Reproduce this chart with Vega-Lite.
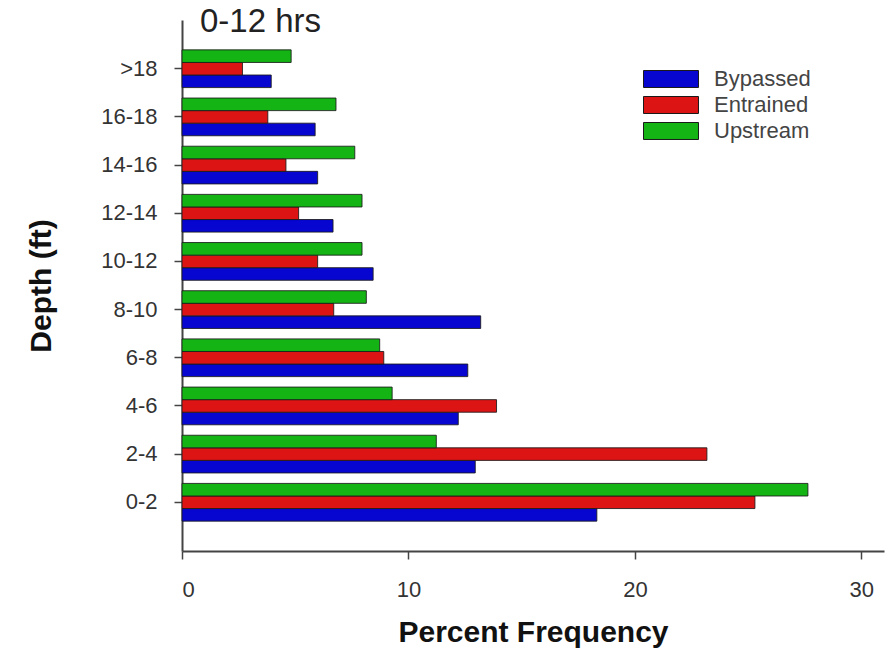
{
  "$schema": "https://vega.github.io/schema/vega-lite/v6.json",
  "autosize": "none",
  "padding": {"left": 182, "top": 20, "right": 8, "bottom": 103},
  "width": 702,
  "height": 531,
  "background": "white",
  "title": {"text": "0-12 hrs", "anchor": "start", "frame": "group", "fontSize": 33, "fontWeight": "normal", "font": "Liberation Sans", "color": "#222", "dx": 18, "offset": -52, "baseline": "bottom"},
  "data": {"values": [
    {"depth": "0-2", "series": "Bypassed", "pct": 18.32},
    {"depth": "0-2", "series": "Entrained", "pct": 25.30},
    {"depth": "0-2", "series": "Upstream", "pct": 27.64},
    {"depth": "2-4", "series": "Bypassed", "pct": 12.95},
    {"depth": "2-4", "series": "Entrained", "pct": 23.18},
    {"depth": "2-4", "series": "Upstream", "pct": 11.23},
    {"depth": "4-6", "series": "Bypassed", "pct": 12.20},
    {"depth": "4-6", "series": "Entrained", "pct": 13.89},
    {"depth": "4-6", "series": "Upstream", "pct": 9.28},
    {"depth": "6-8", "series": "Bypassed", "pct": 12.62},
    {"depth": "6-8", "series": "Entrained", "pct": 8.91},
    {"depth": "6-8", "series": "Upstream", "pct": 8.73},
    {"depth": "8-10", "series": "Bypassed", "pct": 13.19},
    {"depth": "8-10", "series": "Entrained", "pct": 6.70},
    {"depth": "8-10", "series": "Upstream", "pct": 8.14},
    {"depth": "10-12", "series": "Bypassed", "pct": 8.44},
    {"depth": "10-12", "series": "Entrained", "pct": 5.99},
    {"depth": "10-12", "series": "Upstream", "pct": 7.95},
    {"depth": "12-14", "series": "Bypassed", "pct": 6.67},
    {"depth": "12-14", "series": "Entrained", "pct": 5.15},
    {"depth": "12-14", "series": "Upstream", "pct": 7.95},
    {"depth": "14-16", "series": "Bypassed", "pct": 5.99},
    {"depth": "14-16", "series": "Entrained", "pct": 4.59},
    {"depth": "14-16", "series": "Upstream", "pct": 7.63},
    {"depth": "16-18", "series": "Bypassed", "pct": 5.88},
    {"depth": "16-18", "series": "Entrained", "pct": 3.79},
    {"depth": "16-18", "series": "Upstream", "pct": 6.80},
    {"depth": ">18", "series": "Bypassed", "pct": 3.94},
    {"depth": ">18", "series": "Entrained", "pct": 2.67},
    {"depth": ">18", "series": "Upstream", "pct": 4.82}
  ]},
  "mark": {"type": "bar", "stroke": "#1a1a1a", "strokeWidth": 1, "strokeOpacity": 0.85},
  "encoding": {
    "y": {
      "field": "depth", "type": "nominal",
      "sort": [">18", "16-18", "14-16", "12-14", "10-12", "8-10", "6-8", "4-6", "2-4", "0-2"],
      "scale": {"paddingInner": 0.217, "paddingOuter": 0.62},
      "axis": {
        "title": "Depth (ft)", "titleFont": "Liberation Sans", "titleFontSize": 30, "titleFontWeight": "bold", "titleColor": "#111", "titlePadding": 44,
        "labelFont": "Liberation Sans", "labelFontSize": 22, "labelColor": "#333", "labelPadding": 17,
        "tickSize": 8, "tickColor": "#444", "tickWidth": 1.5,
        "domainColor": "#444", "domainWidth": 2
      }
    },
    "yOffset": {"field": "series", "type": "nominal", "sort": ["Upstream", "Entrained", "Bypassed"]},
    "x": {
      "field": "pct", "type": "quantitative",
      "scale": {"domain": [0, 31], "nice": false},
      "axis": {
        "title": "Percent Frequency", "titleFont": "Liberation Sans", "titleFontSize": 30, "titleFontWeight": "bold", "titleColor": "#111", "titlePadding": 17,
        "values": [0, 10, 20, 30], "grid": false,
        "labelFont": "Liberation Sans", "labelFontSize": 22, "labelColor": "#333", "labelPadding": 20,
        "tickSize": 8, "tickColor": "#444", "tickWidth": 1.5,
        "domainColor": "#444", "domainWidth": 2
      }
    },
    "color": {
      "field": "series", "type": "nominal",
      "scale": {"domain": ["Bypassed", "Entrained", "Upstream"], "range": ["#0606d0", "#dc1414", "#14b414"]},
      "legend": {
        "title": null, "orient": "none", "legendX": 458, "legendY": 48, "padding": 0,
        "symbolType": "M-1,-1.133H6.333V1.133H-1Z", "symbolSize": 225, "symbolStrokeColor": "#1a1a1a", "symbolStrokeWidth": 1, "symbolOpacity": 1,
        "labelFont": "Liberation Sans", "labelFontSize": 22, "labelColor": "#444", "labelOffset": 52, "rowPadding": 4
      }
    }
  },
  "config": {"view": {"stroke": null}}
}
